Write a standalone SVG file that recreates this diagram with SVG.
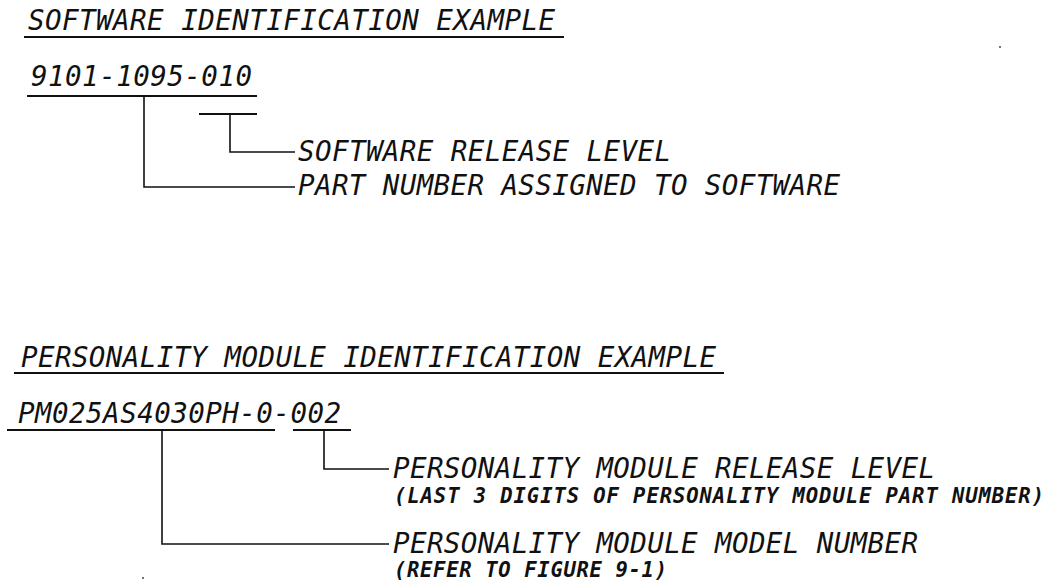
<svg xmlns="http://www.w3.org/2000/svg" width="1062" height="584" viewBox="0 0 1062 584">
<style>
.t{font-family:"DejaVu Sans Mono","Liberation Mono",monospace;font-style:oblique;font-size:27.5px;fill:#111;}
.s{font-family:"DejaVu Sans Mono","Liberation Mono",monospace;font-style:oblique;font-weight:bold;font-size:20.5px;fill:#111;}
.u{stroke:#111;stroke-width:2;fill:none;}
.c{stroke:#111;stroke-width:1.6;fill:none;}
</style>
<rect width="1062" height="584" fill="#fff"/>
<g id="software-section">
  <g id="sw-title">
    <text class="t" x="28" y="30" textLength="527" lengthAdjust="spacing">SOFTWARE IDENTIFICATION EXAMPLE</text>
    <line class="u" x1="24" y1="37" x2="564" y2="37"/>
  </g>
  <g id="sw-number">
    <text class="t" x="31" y="86" textLength="221" lengthAdjust="spacing">9101-1095-010</text>
    <line class="u" x1="27" y1="96" x2="257" y2="96"/>
    <line class="u" x1="199" y1="114" x2="257" y2="114"/>
  </g>
  <g id="sw-release-label">
    <text class="t" x="298" y="161" textLength="373" lengthAdjust="spacing">SOFTWARE RELEASE LEVEL</text>
  </g>
  <g id="sw-part-label">
    <text class="t" x="298" y="195" textLength="542" lengthAdjust="spacing">PART NUMBER ASSIGNED TO SOFTWARE</text>
  </g>
</g>
<g id="pm-section">
  <g id="pm-title">
    <text class="t" x="21" y="367" textLength="695" lengthAdjust="spacing">PERSONALITY MODULE IDENTIFICATION EXAMPLE</text>
    <line class="u" x1="14" y1="373" x2="724" y2="373"/>
  </g>
  <g id="pm-number">
    <text class="t" x="18" y="423" textLength="323" lengthAdjust="spacing">PM025AS4030PH-0-002</text>
    <line class="u" x1="7" y1="430" x2="275" y2="430"/>
    <line class="u" x1="293" y1="430" x2="351" y2="430"/>
  </g>
  <g id="pm-release-label">
    <text class="t" x="393" y="478" textLength="542" lengthAdjust="spacing">PERSONALITY MODULE RELEASE LEVEL</text>
    <text class="s" x="394" y="503" textLength="650" lengthAdjust="spacing">(LAST 3 DIGITS OF PERSONALITY MODULE PART NUMBER)</text>
  </g>
  <g id="pm-model-label">
    <text class="t" x="393" y="553" textLength="525" lengthAdjust="spacing">PERSONALITY MODULE MODEL NUMBER</text>
    <text class="s" x="394" y="577" textLength="273" lengthAdjust="spacing">(REFER TO FIGURE 9-1)</text>
  </g>
</g>
<g id="connectors">
  <polyline class="c" points="230,114 230,152 295,152"/>
  <polyline class="c" points="144,96 144,187 295,187"/>
  <polyline class="c" points="324,430 324,469 389,469"/>
  <polyline class="c" points="162,430 162,544 389,544"/>
</g>
<g id="specks" fill="#444">
  <circle cx="1000" cy="47" r="1"/>
  <circle cx="143" cy="578" r="1"/>
</g>
</svg>
